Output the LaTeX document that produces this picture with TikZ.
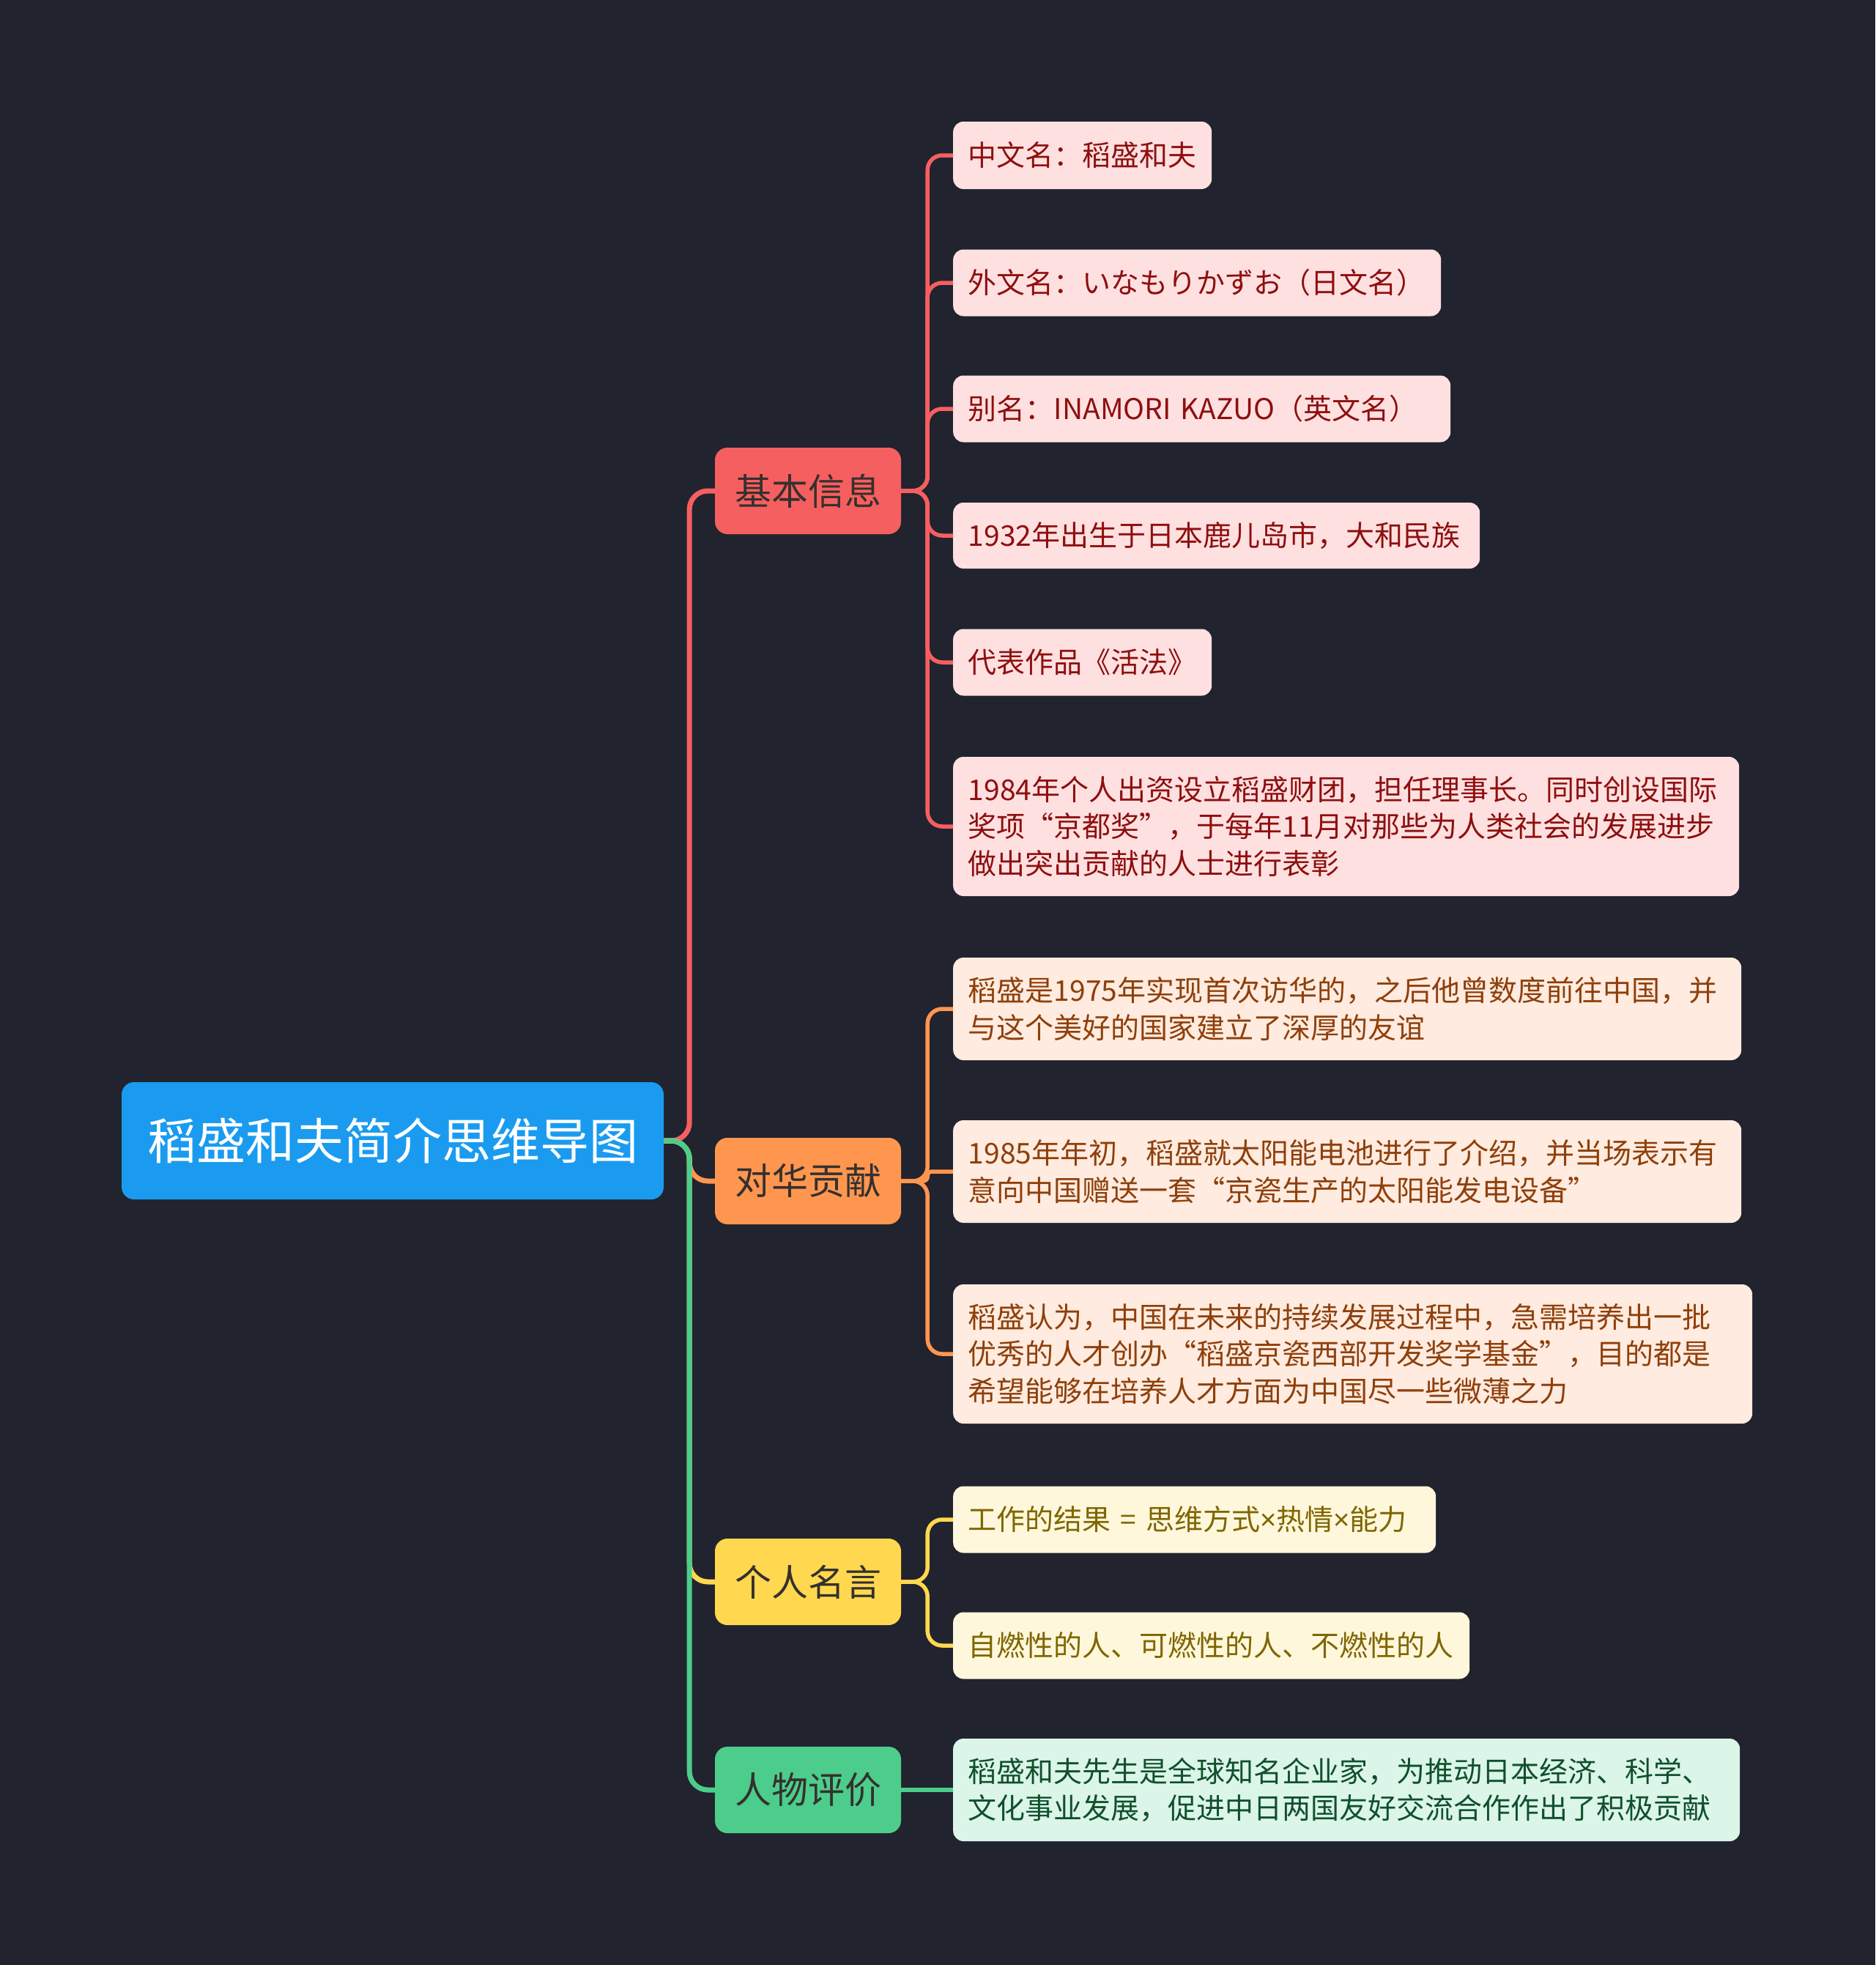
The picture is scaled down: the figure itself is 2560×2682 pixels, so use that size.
\documentclass[tikz,border=0pt]{standalone}
\usepackage{fontspec}
\setmainfont{Noto Sans CJK SC}
\newfontfamily\latinf{Noto Sans}
\definecolor{bg}{HTML}{21232F}
\definecolor{rootc}{HTML}{1A9BF0}
\definecolor{redc}{HTML}{F65F5F}
\definecolor{orac}{HTML}{FF9650}
\definecolor{yelc}{HTML}{FFD84F}
\definecolor{grnc}{HTML}{4CCD8B}
\definecolor{redl}{HTML}{FFE0E0}
\definecolor{oral}{HTML}{FFEBDF}
\definecolor{yell}{HTML}{FFF7DB}
\definecolor{grnl}{HTML}{DBF5E8}
\definecolor{redt}{HTML}{8E0F0F}
\definecolor{orat}{HTML}{8F3F0B}
\definecolor{yelt}{HTML}{7F6600}
\definecolor{grnt}{HTML}{10502C}
\definecolor{catt}{HTML}{35302E}
\begin{document}
\begin{tikzpicture}[x=1pt,y=-1pt,
  rootbox/.style={fill=rootc, text=white, rounded corners=17, minimum width=740, minimum height=160, inner sep=0, font=\fontsize{67}{80}\selectfont},
  catbox/.style={rounded corners=17, minimum width=254, minimum height=118, inner sep=0, text=catt, font=\fontsize{50}{60}\selectfont},
  leafbox/.style={rounded corners=14, anchor=west, inner xsep=20.5, inner ysep=0, align=left, font=\fontsize{39}{50.5}\selectfont},
  redleaf/.style={leafbox, fill=redl, text=redt},
  oraleaf/.style={leafbox, fill=oral, text=orat},
  yelleaf/.style={leafbox, fill=yell, text=yelt},
  grnleaf/.style={leafbox, fill=grnl, text=grnt},
  rootline/.style={line width=7, rounded corners=25},
  leafline/.style={line width=5.5, rounded corners=20}
]
\fill[bg] (0,0) rectangle (2560,2682);
\useasboundingbox (0,0) rectangle (2560,2682);

\node[rootbox] (root) at (536,1557) {稻盛和夫简介思维导图};

\node[catbox, fill=redc] (c1) at (1103,670) {基本信息};
\node[catbox, fill=orac] (c2) at (1103,1612) {对华贡献};
\node[catbox, fill=yelc] (c3) at (1103,2159) {个人名言};
\node[catbox, fill=grnc] (c4) at (1103,2443) {人物评价};

\node[redleaf, text width=312, minimum height=92] (l1) at (1301,212) {中文名：稻盛和夫};
\node[redleaf, text width=625, minimum height=91] (l2) at (1301,386) {外文名：いなもりかずお（日文名）};
\node[redleaf, text width=638, minimum height=91] (l3) at (1301,558) {别名：INAMORI~KAZUO（英文名）};
\node[redleaf, text width=678, minimum height=90] (l4) at (1301,731) {1932年出生于日本鹿儿岛市，大和民族};
\node[redleaf, text width=312, minimum height=91] (l5) at (1301,904) {代表作品《活法》};
\node[redleaf, text width=1032, minimum height=190] (l6) at (1301,1128) {1984年个人出资设立稻盛财团，担任理事长。同时创设国际\\奖项“京都奖”，于每年11月对那些为人类社会的发展进步\\做出突出贡献的人士进行表彰};

\node[oraleaf, text width=1035, minimum height=140] (l7) at (1301,1377) {稻盛是1975年实现首次访华的，之后他曾数度前往中国，并\\与这个美好的国家建立了深厚的友谊};
\node[oraleaf, text width=1035, minimum height=140] (l8) at (1301,1599) {1985年年初，稻盛就太阳能电池进行了介绍，并当场表示有\\意向中国赠送一套“京瓷生产的太阳能发电设备”};
\node[oraleaf, text width=1050, minimum height=190] (l9) at (1301,1848) {稻盛认为，中国在未来的持续发展过程中，急需培养出一批\\优秀的人才创办“稻盛京瓷西部开发奖学基金”，目的都是\\希望能够在培养人才方面为中国尽一些微薄之力};

\node[yelleaf, text width=618, minimum height=91] (l10) at (1301,2074) {\mbox{工作的结果 = 思维方式{\latinf ×}热情{\latinf ×}能力}};
\node[yelleaf, text width=664, minimum height=91] (l11) at (1301,2246) {自燃性的人、可燃性的人、不燃性的人};

\node[grnleaf, text width=1033, minimum height=140] (l12) at (1301,2443) {稻盛和夫先生是全球知名企业家，为推动日本经济、科学、\\文化事业发展，促进中日两国友好交流合作作出了积极贡献};

% root level connectors
\draw[rootline, redc] (root.east) -- ++(35,0) |- (c1.west);
\draw[rootline, orac] (root.east) -- ++(35,0) |- (c2.west);
\draw[rootline, yelc] (root.east) -- ++(35,0) |- (c3.west);
\draw[rootline, grnc] (root.east) -- ++(35,0) |- (c4.west);

% leaf connectors
\foreach \l in {l1,l2,l3,l4,l5,l6}
  \draw[leafline, redc] (c1.east) -- ++(36,0) |- (\l.west);
\draw[leafline, orac] (c2.east) -- ++(36,0) |- (l7.west);
\draw[leafline, orac, rounded corners=6] (c2.east) -- ++(36,0) |- (l8.west);
\draw[leafline, orac] (c2.east) -- ++(36,0) |- (l9.west);
\draw[leafline, yelc] (c3.east) -- ++(36,0) |- (l10.west);
\draw[leafline, yelc] (c3.east) -- ++(36,0) |- (l11.west);
\draw[leafline, grnc] (c4.east) -- (l12.west);
\end{tikzpicture}
\end{document}
